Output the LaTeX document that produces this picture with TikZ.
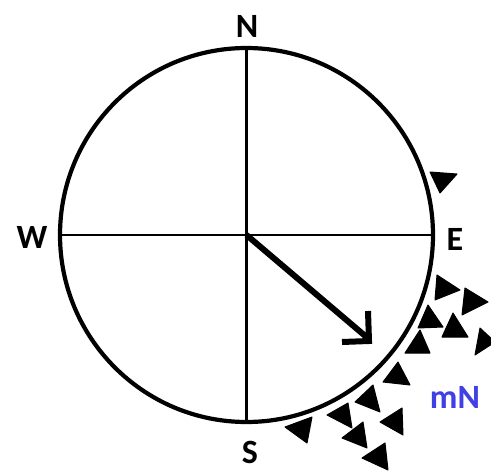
\documentclass[tikz,border=0pt]{standalone}
\usepackage{fontspec}
\setmainfont{Carlito}
\definecolor{mnblue}{RGB}{64,64,228}
\begin{document}
\begin{tikzpicture}[x=1pt,y=-1pt,
  lbl/.style={font=\fontsize{34}{34}\selectfont\bfseries, inner sep=0pt, anchor=base},
  tri/.style={fill=black, draw=black, line width=1pt, line join=round},
  axis/.style={line width=2.2pt},
  rim/.style={line width=4.2pt},
  needle/.style={line width=6pt, line cap=butt, line join=miter}]
\useasboundingbox (0,0) rectangle (491,472);
\coordinate (c) at (246.5,235);
% circle
\draw[rim] (c) ellipse [x radius=186.5, y radius=187];
% cross
\coordinate (n) at (246.5,48);
\coordinate (s) at (246.5,422);
\coordinate (w) at (60,235);
\coordinate (e) at (433,235);
\draw[axis] (n) -- (s);
\draw[axis] (w) -- (e);
% needle
\coordinate (tip) at (370,340);
\draw[needle] (c) -- (tip);
\draw[needle] (368,311) -- (369,341) -- (342,342);
% labels
\node[lbl] (lN) at (247,37) {N};
\node[lbl] (lW) at (32,248) {W};
\node[lbl] (lE) at (455,250) {E};
\node[lbl] (lS) at (250,463) {S};
\node[lbl, text=mnblue] (lmN) at (455,408) {mN};
% triangles
\fill[tri] (430,172) -- (457,174) -- (440,193) -- cycle;
\fill[tri] (437,275) -- (460,290) -- (435,300) -- cycle;
\fill[tri] (465,288) -- (488,302) -- (462,315) -- cycle;
\fill[tri] (428,305) -- (443,327) -- (418,328) -- cycle;
\fill[tri] (453,313) -- (468,337) -- (442,337) -- cycle;
\fill[tri] (480,328) -- (495,342) -- (475,355) -- cycle;
\fill[tri] (420,330) -- (430,353) -- (405,353) -- cycle;
\fill[tri] (398,362) -- (410,385) -- (383,382) -- cycle;
\fill[tri] (373,385) -- (380,412) -- (355,402) -- cycle;
\fill[tri] (348,403) -- (352,428) -- (327,415) -- cycle;
\fill[tri] (402,408) -- (403,435) -- (380,422) -- cycle;
\fill[tri] (363,422) -- (367,448) -- (342,438) -- cycle;
\fill[tri] (285,427) -- (312,417) -- (307,443) -- cycle;
\fill[tri] (385,443) -- (388,470) -- (362,458) -- cycle;
\end{tikzpicture}
\end{document}
